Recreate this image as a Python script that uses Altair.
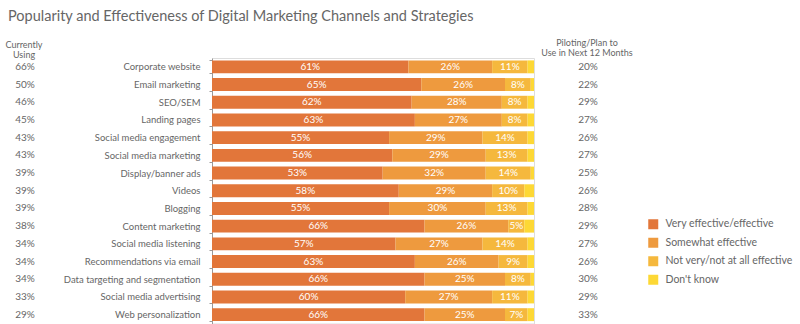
import altair as alt
import pandas as pd

title_text = "Popularity and Effectiveness of Digital Marketing Channels and Strategies"
categories = ["Corporate website", "Email marketing", "SEO/SEM", "Landing pages",
              "Social media engagement", "Social media marketing", "Display/banner ads",
              "Videos", "Blogging", "Content marketing", "Social media listening",
              "Recommendations via email", "Data targeting and segmentation",
              "Social media advertising", "Web personalization"]
currently_using = [66, 50, 46, 45, 43, 43, 39, 39, 39, 38, 34, 34, 34, 33, 29]
piloting = [20, 22, 29, 27, 26, 27, 25, 26, 28, 29, 27, 26, 30, 29, 33]
very_effective = [61, 65, 62, 63, 55, 56, 53, 58, 55, 66, 57, 63, 66, 60, 66]
somewhat_effective = [26, 26, 28, 27, 29, 29, 32, 29, 30, 26, 27, 26, 25, 27, 25]
not_very = [11, 8, 8, 8, 14, 13, 14, 10, 13, 5, 14, 9, 8, 11, 7]
dont_know = [2, 1, 2, 2, 2, 2, 1, 3, 2, 3, 2, 2, 1, 2, 2]

series = ["Very effective/effective", "Somewhat effective",
          "Not very/not at all effective", "Don't know"]
colors = ["#E2763A", "#EE9A3E", "#F5B83D", "#FDD835"]

FONT = "Lato"
GRAY = "#666666"

rows = []
for i, c in enumerate(categories):
    vals = [very_effective[i], somewhat_effective[i], not_very[i], dont_know[i]]
    start = 0
    for j, (s, v) in enumerate(zip(series, vals)):
        rows.append({"cat": c, "series": s, "order": j, "value": v,
                     "start": start, "end": start + v, "mid": start + v / 2,
                     "label": f"{v}%" if j < 3 else ""})
        start += v
df = pd.DataFrame(rows)

side = pd.DataFrame({"cat": categories,
                     "cur": [f"{v}%" for v in currently_using],
                     "pil": [f"{v}%" for v in piloting]})

yenc = alt.Y("cat:N", sort=categories, title=None,
             scale=alt.Scale(paddingInner=0.27, paddingOuter=0.135),
             axis=alt.Axis(labelFont=FONT, labelFontSize=9.5, labelColor=GRAY,
                           domainColor="#9a9a9a", tickColor="#9a9a9a", tickSize=3,
                           tickBand="extent", labelPadding=9))
xscale = alt.Scale(domain=[0, 100], nice=False)

bars = alt.Chart(df).mark_bar().encode(
    y=yenc,
    x=alt.X("start:Q", scale=xscale, axis=None),
    x2="end:Q",
    color=alt.Color("series:N", sort=series,
                    scale=alt.Scale(domain=series, range=colors),
                    legend=alt.Legend(title=None, orient="none", legendX=436, legendY=161,
                                      symbolType="square", symbolSize=100,
                                      symbolStrokeWidth=0, labelFont=FONT,
                                      labelFontSize=10.5, labelColor=GRAY,
                                      rowPadding=7.5, labelOffset=7)),
    order=alt.Order("order:Q"),
)

seg_labels = alt.Chart(df).mark_text(color="white", font=FONT, fontSize=10).encode(
    y=alt.Y("cat:N", sort=categories),
    x=alt.X("mid:Q", scale=xscale),
    text="label:N",
)

left_col = alt.Chart(side).mark_text(color=GRAY, font=FONT, fontSize=10).encode(
    y=alt.Y("cat:N", sort=categories), x=alt.value(-187), text="cur:N")
right_col = alt.Chart(side).mark_text(color=GRAY, font=FONT, fontSize=10).encode(
    y=alt.Y("cat:N", sort=categories), x=alt.value(376), text="pil:N")

hdr_left = alt.Chart(pd.DataFrame({"t": [["Currently", "Using"]]})).mark_text(
    color=GRAY, font=FONT, fontSize=9, lineHeight=9.5, baseline="middle").encode(
    x=alt.value(-188), y=alt.value(-13), text="t")
hdr_right = alt.Chart(pd.DataFrame({"t": [["Piloting/Plan to", "Use in Next 12 Months"]]})).mark_text(
    color=GRAY, font=FONT, fontSize=9, lineHeight=9.5, baseline="middle").encode(
    x=alt.value(375), y=alt.value(-15), text="t")

title = alt.Chart(pd.DataFrame({"t": [title_text]})).mark_text(
    color=GRAY, font=FONT, fontSize=14.5, align="left", baseline="alphabetic").encode(
    x=alt.value(-204), y=alt.value(-37), text="t")

chart = alt.layer(bars, seg_labels, left_col, right_col, hdr_left, hdr_right, title).properties(
    width=322, height=265.5,
    autosize=alt.AutoSizeParams(type="none"),
    padding={"left": 212, "top": 58, "right": 266, "bottom": 0},
).configure_view(stroke=None).configure(background="white")

chart.save("out.html", embed_options={"renderer": "svg", "actions": False})
